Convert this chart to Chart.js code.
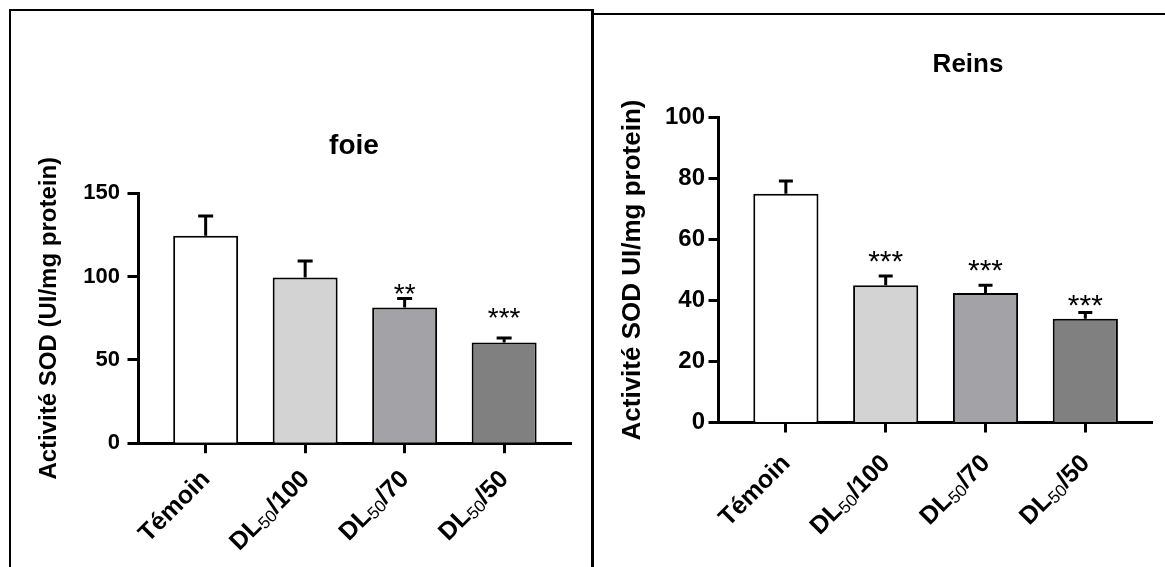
<!DOCTYPE html>
<html>
<head>
<meta charset="utf-8">
<script src="https://cdn.jsdelivr.net/npm/chart.js@4.4.1/dist/chart.umd.min.js"></script>
<style>
  html, body { margin: 0; padding: 0; background: #fff; }
  body { width: 1165px; height: 567px; position: relative; overflow: hidden; }
  canvas { position: absolute; top: 0; }
  #foie { left: 0; }
  #reins { left: 592px; }
  .frame { position: absolute; background: #000; }
</style>
</head>
<body>
<div class="frame" style="left:9px;top:9px;width:2px;height:558px"></div>
<div class="frame" style="left:9px;top:9px;width:584px;height:2px"></div>
<div class="frame" style="left:591px;top:9px;width:3px;height:558px"></div>
<div class="frame" style="left:591px;top:13px;width:574px;height:2px"></div>
<canvas id="foie" width="592" height="567"></canvas>
<canvas id="reins" width="573" height="567"></canvas>
<script>
const FONT = "'Liberation Sans', Arial, Helvetica, sans-serif"
Chart.defaults.font.family = FONT
Chart.defaults.color = '#000'

// groupes (x) — le "50" est écrit en indice
const categories = ['Témoin', 'DL50/100', 'DL50/70', 'DL50/50']
const labelParts = [['Témoin', '', ''], ['DL', '50', '/100'], ['DL', '50', '/70'], ['DL', '50', '/50']]
const barColors = ['#ffffff', '#d3d3d3', '#a3a3a7', '#808080']

// foie
const foieValues = [124.5, 99.5, 81.5, 60.5]
const foieErrors = [11.8, 9.8, 5.4, 2.6]
const foieStars = ['', '', '**', '***']
const foieStarLevels = [null, null, 93.6, 79.4]
const foieTicks = [0, 50, 100, 150]

// reins
const reinsValues = [75, 45, 42.5, 34]
const reinsErrors = [4.2, 3.0, 2.5, 2.1]
const reinsStars = ['', '***', '***', '***']
const reinsStarLevels = [null, 55.2, 52.4, 41]
const reinsTicks = [0, 20, 40, 60, 80, 100]

// barres d'erreur, étoiles, étiquettes inclinées et titre du panneau
const extras = {
  id: 'extras',
  afterDatasetsDraw(chart, args, opts) {
    const { ctx } = chart
    const y = chart.scales.y
    const bars = chart.getDatasetMeta(0).data
    ctx.save()
    ctx.strokeStyle = '#000'
    ctx.lineWidth = 3
    opts.values.forEach((v, i) => {
      const px = bars[i].x
      const top = y.getPixelForValue(v + opts.errors[i])
      ctx.beginPath()
      ctx.moveTo(px, y.getPixelForValue(v))
      ctx.lineTo(px, top)
      ctx.moveTo(px - opts.capHalf, top)
      ctx.lineTo(px + opts.capHalf, top)
      ctx.stroke()
    })
    ctx.fillStyle = '#000'
    ctx.font = `${opts.starSize}px ${FONT}`
    ctx.textAlign = 'center'
    ctx.textBaseline = 'alphabetic'
    opts.stars.forEach((s, i) => {
      if (!s) return
      ctx.fillText(s, bars[i].x, y.getPixelForValue(opts.starLevels[i]) + opts.starSize * 0.575)
    })
    ctx.restore()
  },
  afterDraw(chart, args, opts) {
    const { ctx } = chart
    const xs = chart.scales.x
    const base = chart.chartArea.bottom
    const size = opts.labelSize
    ctx.save()
    ctx.fillStyle = '#000'
    labelParts.forEach((parts, i) => {
      const segs = [
        { t: parts[0], font: `bold ${size}px ${FONT}`, dy: 0 },
        { t: parts[1], font: `${Math.round(size * 0.68)}px ${FONT}`, dy: size * 0.12 },
        { t: parts[2], font: `bold ${size}px ${FONT}`, dy: 0 }
      ]
      let total = 0
      segs.forEach(s => { ctx.font = s.font; s.w = ctx.measureText(s.t).width; total += s.w })
      ctx.save()
      ctx.translate(xs.getPixelForValue(i) + opts.labelDx, base + opts.labelDy)
      ctx.rotate(-Math.PI / 4)
      ctx.textAlign = 'left'
      ctx.textBaseline = 'alphabetic'
      let x = -total
      segs.forEach(s => { ctx.font = s.font; ctx.fillText(s.t, x, s.dy); x += s.w })
      ctx.restore()
    })
    ctx.font = `bold ${opts.titleSize}px ${FONT}`
    ctx.textAlign = 'center'
    ctx.fillText(opts.title, opts.titleX, opts.titleY)
    ctx.restore()
  }
}

function makeChart(id, cfg) {
  return new Chart(document.getElementById(id), {
    type: 'bar',
    data: {
      datasets: [{
        data: cfg.values.map((v, i) => ({ x: i, y: v })),
        backgroundColor: barColors,
        borderColor: '#000',
        borderWidth: 2,
        categoryPercentage: 1,
        barPercentage: 0.653
      }]
    },
    plugins: [extras],
    options: {
      responsive: false,
      animation: false,
      events: [],
      layout: { padding: cfg.padding },
      plugins: {
        legend: { display: false },
        tooltip: { enabled: false },
        extras: cfg.extras
      },
      scales: {
        x: {
          type: 'linear',
          offset: false,
          min: -0.675,
          max: categories.length - 1 + 0.675,
          z: 1,
          afterBuildTicks: (s) => { s.ticks = categories.map((_, i) => ({ value: i })) },
          afterFit: (s) => { s.height = cfg.xHeight },
          ticks: { display: false },
          grid: { offset: false, drawOnChartArea: false, tickLength: 10, tickWidth: 3, tickColor: '#000' },
          border: { width: 3, color: '#000' }
        },
        y: {
          min: 0,
          max: cfg.ticks[cfg.ticks.length - 1],
          afterBuildTicks: (s) => { s.ticks = cfg.ticks.map(v => ({ value: v })) },
          afterFit: (s) => { s.width = cfg.yWidth },
          ticks: { font: { size: cfg.tickSize, weight: 'bold' }, color: '#000', padding: cfg.tickPad },
          grid: { drawOnChartArea: false, tickLength: cfg.tickLen, tickWidth: 3, tickColor: '#000' },
          border: { width: 3, color: '#000' },
          title: {
            display: true,
            text: cfg.yTitle,
            color: '#000',
            font: { size: cfg.yTitleSize, weight: 'bold' },
            padding: { top: cfg.yTitlePad, bottom: 0 }
          }
        }
      }
    }
  })
}

makeChart('foie', {
  values: foieValues,
  ticks: foieTicks,
  padding: { top: 193.3, right: 20.7, bottom: 0, left: 0 },
  xHeight: 123.8,
  yWidth: 138.5,
  tickSize: 22,
  tickPad: 7.5,
  tickLen: 11,
  yTitle: 'Activité SOD (UI/mg protein)',
  yTitleSize: 24,
  yTitlePad: 35,
  extras: {
    values: foieValues, errors: foieErrors, stars: foieStars, starLevels: foieStarLevels,
    capHalf: 7.5, starSize: 28,
    labelSize: 25, labelDx: 5.5, labelDy: 37,
    title: 'foie', titleSize: 28, titleX: 354, titleY: 154
  }
})

makeChart('reins', {
  values: reinsValues,
  ticks: reinsTicks,
  padding: { top: 117.5, right: 12.3, bottom: 0, left: 0 },
  xHeight: 144.5,
  yWidth: 126.5,
  tickSize: 24,
  tickPad: 3.5,
  tickLen: 10,
  yTitle: 'Activité SOD UI/mg protein)',
  yTitleSize: 26,
  yTitlePad: 25,
  extras: {
    values: reinsValues, errors: reinsErrors, stars: reinsStars, starLevels: reinsStarLevels,
    capHalf: 7, starSize: 30,
    labelSize: 25, labelDx: 5.5, labelDy: 42,
    title: 'Reins', titleSize: 26, titleX: 376, titleY: 71.5
  }
})
</script>
</body>
</html>
